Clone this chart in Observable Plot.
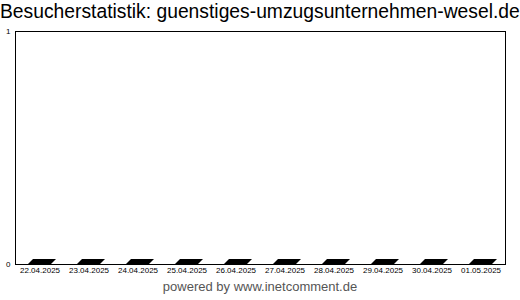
<!DOCTYPE html>
<html>
<head>
<meta charset="utf-8">
<script src="https://cdn.jsdelivr.net/npm/d3@7"></script>
<script src="https://cdn.jsdelivr.net/npm/@observablehq/plot@0.6"></script>
<style>
  html, body { margin: 0; padding: 0; background: #fff; }
  body { width: 520px; height: 300px; overflow: hidden; font-family: "Liberation Sans", Arial, sans-serif; }
  #title { height: 24px; line-height: 24px; font-size: 19.3px; color: #000; white-space: nowrap; padding-left: 0; }
  #footer { text-align: center; font-size: 13px; color: #555; line-height: 20px; margin-top: 1px; }
  /* zero-height bars are shown as a flat, slanted top face */
  svg .bar3d rect { transform-box: fill-box; transform-origin: 0 100%; transform: skewX(-45deg); }
</style>
</head>
<body>
<div id="title">Besucherstatistik: guenstiges-umzugsunternehmen-wesel.de</div>
<div id="chart"></div>
<div id="footer">powered by www.inetcomment.de</div>
<script>
const dates = ["22.04.2025", "23.04.2025", "24.04.2025", "25.04.2025", "26.04.2025",
               "27.04.2025", "28.04.2025", "29.04.2025", "30.04.2025", "01.05.2025"];
const visits = [0, 0, 0, 0, 0, 0, 0, 0, 0, 0];
const yTicks = [0, 1];

const data = dates.map((d, i) => ({date: d, visits: visits[i]}));

const chart = Plot.plot({
  width: 520,
  height: 252,
  marginTop: 7,
  marginBottom: 12,
  marginLeft: 15,
  marginRight: 15,
  style: {fontFamily: "'Liberation Sans', Arial, sans-serif", color: "#000", background: "#fff"},
  x: {domain: dates, paddingInner: 0.53, paddingOuter: 0.265, label: null},
  y: {domain: [0, 1], label: null},
  marks: [
    Plot.barY(data, {x: "date", y: "visits", insetTop: -5, fill: "#000", className: "bar3d"}),
    Plot.frame({stroke: "#000", strokeWidth: 1}),
    Plot.axisY({ticks: yTicks, tickSize: 0, tickPadding: 5, fontSize: 8, label: null, tickFormat: d3.format("d")}),
    Plot.axisX({tickSize: 0, tickPadding: 3, fontSize: 8, label: null})
  ]
});
document.getElementById("chart").append(chart);
</script>
</body>
</html>
